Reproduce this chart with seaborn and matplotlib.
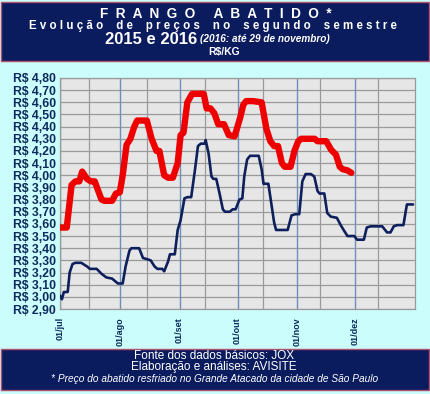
import matplotlib
matplotlib.use("Agg")
import matplotlib.pyplot as plt
from matplotlib.patches import Rectangle
import numpy as np
import pandas as pd
import seaborn as sns

# dias contados a partir de 01/jul
DIAS_2016 = [0, 3.5, 6, 8, 10, 11.5, 14, 16, 18, 21.5, 23, 27, 29, 31, 32.5, 34.5,
             36.5, 38.5, 40, 45, 47.5, 50, 51.5, 54, 56, 58.5, 61, 62.5, 64, 66,
             68.5, 74.5, 76, 78, 80, 82, 85, 87.5, 90.5, 93.5, 95, 96.5, 100, 104.5,
             107, 109, 111, 113, 115, 116.5, 119.5, 121.5, 123.5, 125, 132, 133.5,
             138, 140.5, 143, 145, 146.5, 149, 151]
PRECO_2016 = [3.57, 3.57, 3.92, 3.95, 3.95, 4.03, 3.97, 3.95, 3.95, 3.80, 3.79, 3.79,
              3.85, 3.86, 4.00, 4.25, 4.30, 4.40, 4.45, 4.45, 4.30, 4.20, 4.20, 4.00,
              3.98, 3.98, 4.10, 4.33, 4.35, 4.60, 4.67, 4.67, 4.55, 4.55, 4.51, 4.42,
              4.42, 4.33, 4.32, 4.48, 4.58, 4.61, 4.61, 4.60, 4.38, 4.28, 4.24, 4.24,
              4.10, 4.07, 4.07, 4.20, 4.28, 4.30, 4.30, 4.28, 4.28, 4.21, 4.17, 4.07,
              4.05, 4.04, 4.02]

DIAS_2015 = [0, 1, 2, 4, 5, 6.5, 8, 11, 14, 15.5, 19, 21.5, 24, 27, 28.5, 30, 32.5,
             34, 36, 37, 41, 43, 45, 47, 49, 50.5, 53, 54, 56, 57, 59.5, 61, 62.5,
             64.5, 66, 68, 70, 71.5, 73, 75, 75.5, 77, 78.5, 79.5, 81, 82.7, 84.4,
             85.5, 88, 89.5, 91, 93, 94.5, 95.5, 97, 98.5, 103, 104.5, 105.5, 108,
             109.5, 111, 112, 118, 120, 122, 124, 125.6, 127.3, 130, 131.8, 133.5,
             134.5, 137, 138.5, 140.3, 143.5, 145.5, 147, 149, 152.5, 154, 157.5,
             159, 161, 167, 169.5, 171.3, 173, 174.7, 178, 179.8, 183]
PRECO_2015 = [3.01, 2.98, 3.04, 3.04, 3.20, 3.27, 3.28, 3.28, 3.25, 3.23, 3.23, 3.19,
              3.16, 3.15, 3.13, 3.11, 3.11, 3.25, 3.38, 3.40, 3.40, 3.32, 3.31, 3.30,
              3.25, 3.23, 3.23, 3.21, 3.29, 3.35, 3.35, 3.55, 3.63, 3.81, 3.82, 3.82,
              4.05, 4.24, 4.26, 4.26, 4.29, 4.18, 3.99, 3.97, 3.97, 3.85, 3.72, 3.70,
              3.70, 3.72, 3.72, 3.80, 3.81, 3.99, 4.13, 4.16, 4.16, 4.05, 3.93, 3.93,
              3.77, 3.61, 3.55, 3.55, 3.67, 3.68, 3.68, 3.95, 4.01, 4.01, 3.99, 3.87,
              3.85, 3.85, 3.69, 3.66, 3.65, 3.59, 3.55, 3.50, 3.50, 3.47, 3.47, 3.57,
              3.58, 3.58, 3.53, 3.53, 3.58, 3.59, 3.59, 3.76, 3.76]

MESES_DIA = [0, 31, 62, 92, 123, 153]
MESES_ROTULO = ["01/jul", "01/ago", "01/set", "01/out", "01/nov", "01/dez"]
GRADE_DIA = [15, 45, 75, 105, 135, 165]
Y_TICKS = [round(2.9 + 0.1 * i, 2) for i in range(20)]

NAVY = "#0a1b5e"
CIANO = "#ccfdfd"
BORDA = "#b0506a"
FONTE = "Liberation Sans"

sns.set_style("white")
plt.rcParams["font.family"] = [FONTE, "DejaVu Sans"]

df = pd.concat([
    pd.DataFrame({"dia": DIAS_2015, "preco": PRECO_2015, "ano": "2015"}),
    pd.DataFrame({"dia": DIAS_2016, "preco": PRECO_2016, "ano": "2016"}),
])

fig = plt.figure(figsize=(4.30, 3.94), dpi=100)
fig.patch.set_facecolor(CIANO)

# faixas de cabeçalho e rodapé
for y0, y1 in [(2, 61), (349, 390)]:
    fig.patches.append(Rectangle((0.003, 1 - y1 / 394), 0.994, (y1 - y0) / 394,
                                 transform=fig.transFigure, facecolor=NAVY,
                                 edgecolor=BORDA, linewidth=1.0, zorder=0))

ax = fig.add_axes([60 / 430, 1 - 309 / 394, 355 / 430, 231 / 394])
ax.set_facecolor("#e6e6e6")

for v in Y_TICKS:
    ax.axhline(v, color="#9a9a9a", linewidth=0.9, zorder=1)
for d in GRADE_DIA:
    ax.axvline(d, color="#9a9a9a", linewidth=0.9, zorder=1)
for d in MESES_DIA:
    ax.axvline(d, color="#6f8fb8", linewidth=1.0, zorder=1)

sns.lineplot(data=df[df["ano"] == "2016"], x="dia", y="preco", color="#ee0000",
             linewidth=4.6, ax=ax, zorder=3, legend=False)
sns.lineplot(data=df[df["ano"] == "2015"], x="dia", y="preco", color="#0d1f5c",
             linewidth=1.9, ax=ax, zorder=4, legend=False)

ax.set_xlim(0, 184)
ax.set_ylim(2.90, 4.80)
ax.set_yticks(Y_TICKS)
ax.set_yticklabels([f"R$ {v:.2f}".replace(".", ",") for v in Y_TICKS],
                   fontsize=8.8, fontweight="bold", color="#0c2a5c")
ax.set_xticks(MESES_DIA)
ax.set_xticklabels(MESES_ROTULO, rotation=90, fontsize=6.5, fontweight="bold",
                   color="#0c2a5c")
ax.tick_params(axis="both", length=0, pad=3)
ax.tick_params(axis="x", pad=6)
ax.set_xlabel("")
ax.set_ylabel("")
for s in ax.spines.values():
    s.set_color("#9a9a9a")
    s.set_linewidth(0.9)

# textos do cabeçalho
def fy(py):
    return 1 - py / 394

fig.text(0.503, fy(14), "  ".join("FRANGO ABATIDO*"),
         ha="center", va="center", color="white", fontsize=9.8, fontweight="bold")
fig.text(0.496, fy(26.5), " ".join("Evolução de preços no segundo semestre").replace("   ", "    "),
         ha="center", va="center", color="white", fontsize=8.3, fontweight="bold")
fig.text(197 / 430, fy(39), "2015 e 2016", ha="right", va="center", color="white",
         fontsize=12, fontweight="bold")
fig.text(200 / 430, fy(39), "(2016: até 29 de novembro)", ha="left", va="center",
         color="white", fontsize=7.2, fontweight="bold", style="italic")
fig.text(0.52, fy(52), "R$/KG", ha="center", va="center", color="white",
         fontsize=7.5, fontweight="bold")

# rodapé
fig.text(0.498, fy(356), "Fonte dos dados básicos: JOX", ha="center", va="center",
         color="white", fontsize=8.5)
fig.text(0.498, fy(367), "Elaboração e análises: AVISITE", ha="center", va="center",
         color="white", fontsize=8.5)
fig.text(0.498, fy(379), "* Preço do abatido resfriado no Grande Atacado da cidade de São Paulo",
         ha="center", va="center", color="white", fontsize=7.3, style="italic")

fig.savefig("out.png", dpi=100, facecolor=fig.get_facecolor())
